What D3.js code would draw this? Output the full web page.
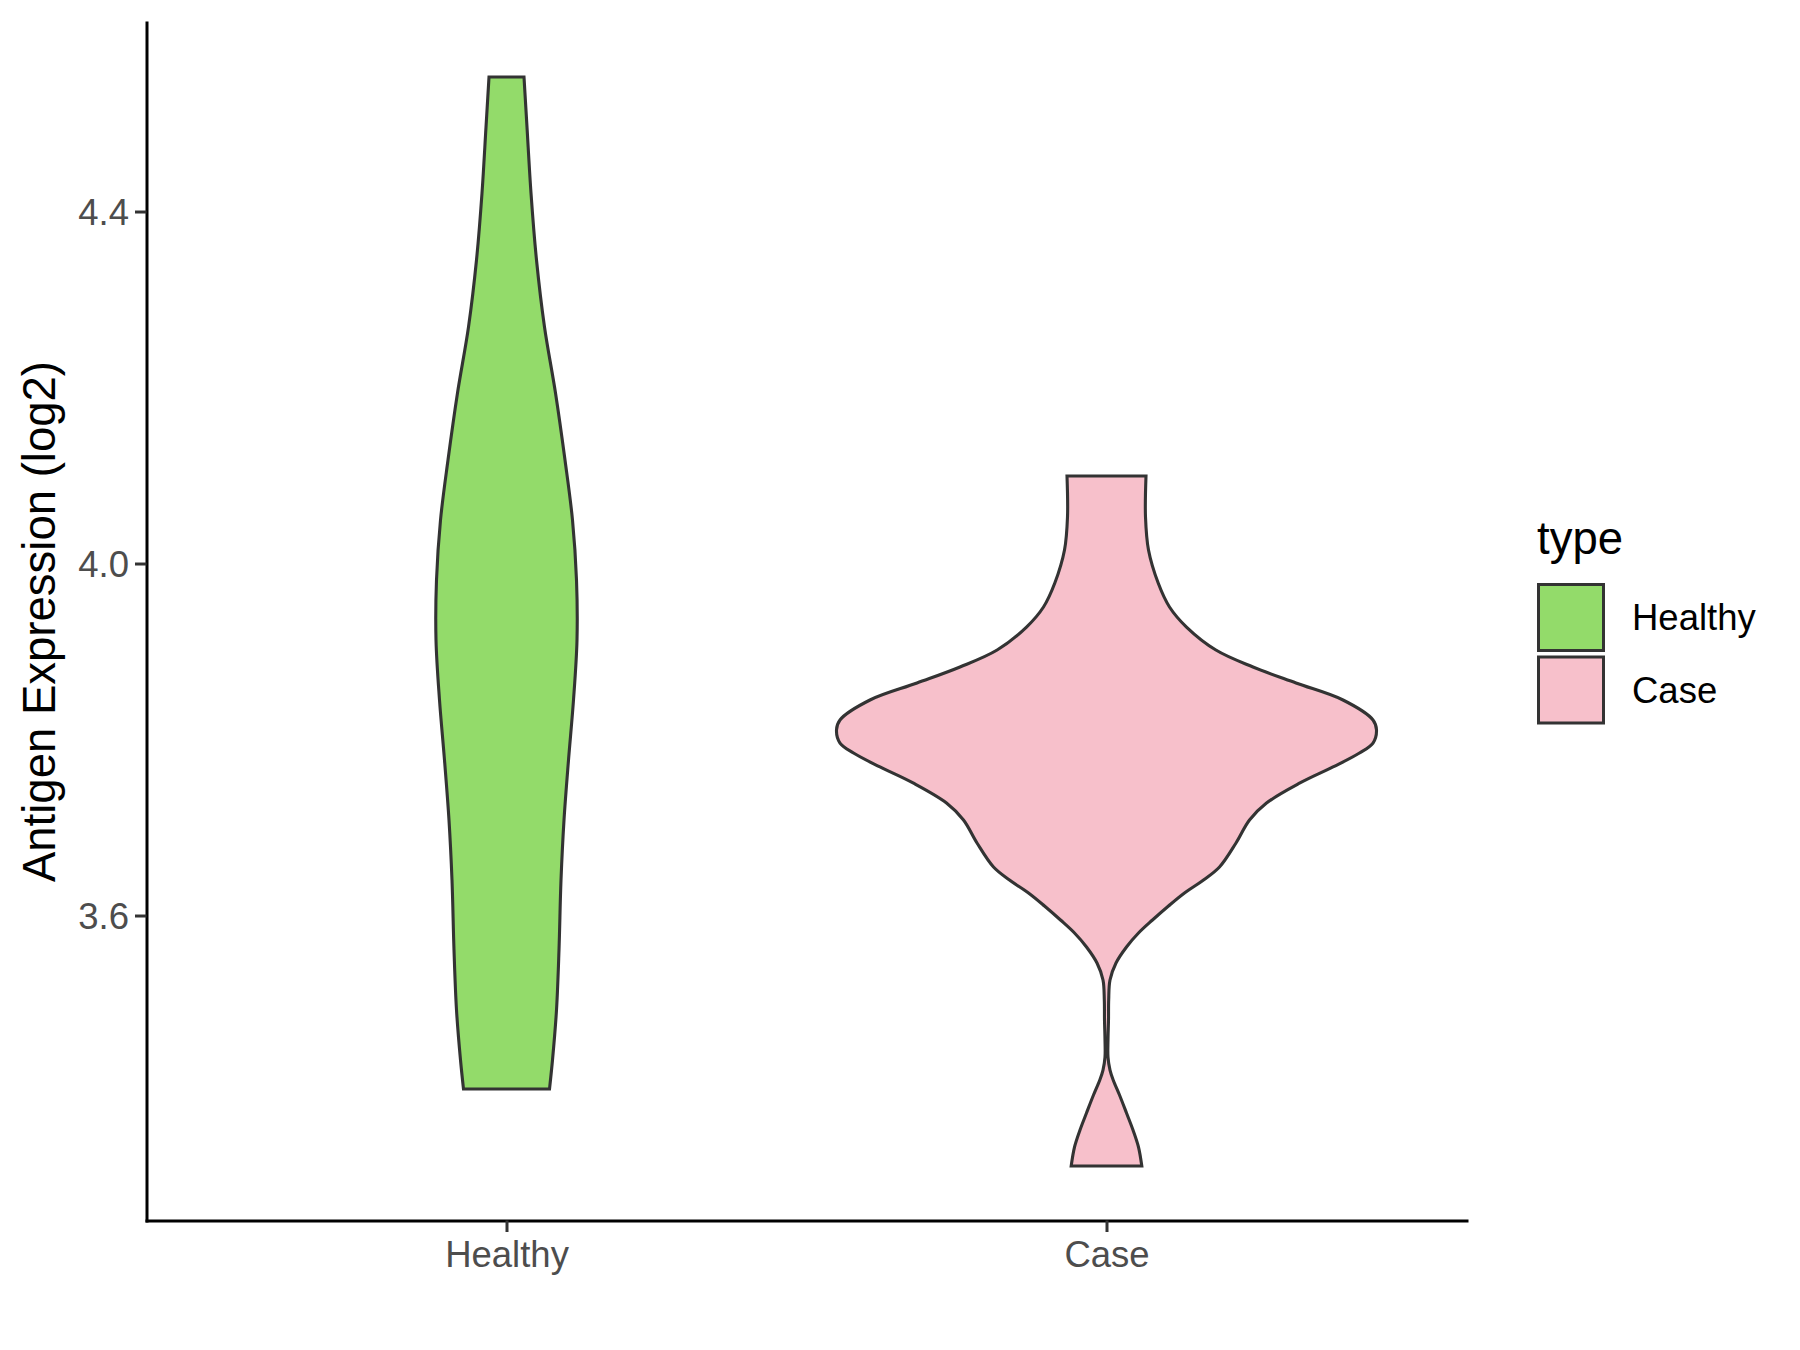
<!DOCTYPE html>
<html>
<head>
<meta charset="utf-8">
<script src="https://cdn.jsdelivr.net/npm/d3@7"></script>
<style>
  html, body { margin: 0; padding: 0; background: #ffffff; }
  svg { display: block; }
  text { font-family: "Liberation Sans", Arial, sans-serif; }
</style>
</head>
<body>
<svg id="chart" width="1800" height="1350"></svg>
<script>
// ---------------- data ----------------
const categories = ["Healthy", "Case"];
const yTicks = [3.6, 4.0, 4.4];
const legendTitle = "type";
const yTitle = "Antigen Expression (log2)";

// Violin density estimates (value on y axis, kernel density)
const healthyValues  = [4.5528, 4.4960, 4.4210, 4.3449, 4.2688, 4.1938, 4.1176, 4.0494, 3.9813, 3.9131,
                        3.8449, 3.7767, 3.7085, 3.6403, 3.5608, 3.4926, 3.4358, 3.4028];
const healthyDensity = [0.280, 0.328, 0.392, 0.480, 0.608, 0.784, 0.936, 1.056, 1.120, 1.128,
                        1.072, 0.992, 0.920, 0.872, 0.840, 0.800, 0.736, 0.688];

const caseValues  = [4.0994, 4.0528, 4.0153, 3.9778, 3.9506, 3.9278, 3.9017, 3.8824, 3.8642, 3.8449,
                     3.8222, 3.8108, 3.7960, 3.7847, 3.7688, 3.7506, 3.7278, 3.7085, 3.6824, 3.6551,
                     3.6403, 3.6256, 3.6108, 3.5949, 3.5801, 3.5642, 3.5460, 3.5267, 3.5040, 3.4813,
                     3.4585, 3.4392, 3.4244, 3.4131, 3.3960, 3.3756, 3.3563, 3.3369, 3.3153];
const caseDensity = [0.632, 0.624, 0.672, 0.827, 1.008, 1.280, 1.750, 2.344, 3.032, 3.784,
                     4.264, 4.320, 4.264, 4.048, 3.624, 3.096, 2.560, 2.288, 2.072, 1.808,
                     1.552, 1.248, 0.992, 0.736, 0.512, 0.320, 0.152, 0.056, 0.035, 0.032,
                     0.024, 0.024, 0.056, 0.107, 0.208, 0.320, 0.424, 0.512, 0.565];

const fillColors = ["#93DB6A", "#F7C0CB"];

// ---------------- layout ----------------
const svg = d3.select("#chart");
const panel = { left: 146.5, right: 1466.5, top: 22.6, bottom: 1220.5 };

const groups = [
  { name: categories[0], values: healthyValues, density: healthyDensity, fill: fillColors[0] },
  { name: categories[1], values: caseValues, density: caseDensity, fill: fillColors[1] }
];

const allVals = healthyValues.concat(caseValues);
const vMin = d3.min(allVals), vMax = d3.max(allVals);
const pad = (vMax - vMin) * 0.05;

const y = d3.scaleLinear().domain([vMin - pad, vMax + pad]).range([panel.bottom, panel.top]);
const x = d3.scalePoint().domain(categories).range([panel.left, panel.right]).padding(0.6);
const maxDens = d3.max(healthyDensity.concat(caseDensity));
const w = d3.scaleLinear().domain([0, maxDens]).range([0, x.step() * 0.45]);

// ---------------- violins ----------------
const area = d3.area()
  .curve(d3.curveCatmullRom.alpha(0.5));

groups.forEach(g => {
  const cx = x(g.name);
  const pts = g.values.map((v, i) => ({ v, d: g.density[i] }));
  area.x0(p => cx - w(p.d)).x1(p => cx + w(p.d)).y(p => y(p.v));
  svg.append("path")
    .attr("d", area(pts))
    .attr("fill", g.fill)
    .attr("stroke", "#333333")
    .attr("stroke-width", 3.1)
    .attr("stroke-linejoin", "miter");
});

// ---------------- axes ----------------
const yAxis = svg.append("g")
  .attr("transform", `translate(${panel.left},0)`)
  .call(d3.axisLeft(y).tickValues(yTicks).tickFormat(d3.format(".1f")).tickSizeOuter(0).tickSizeInner(11.5).tickPadding(6));

const xAxis = svg.append("g")
  .attr("transform", `translate(0,${panel.bottom})`)
  .call(d3.axisBottom(x).tickSizeOuter(0).tickSizeInner(11.5).tickPadding(9));

[yAxis, xAxis].forEach(a => {
  a.select(".domain").attr("stroke", "#000000").attr("stroke-width", 3).attr("stroke-linecap", "square");
  a.selectAll(".tick line").attr("stroke", "#333333").attr("stroke-width", 3);
  a.selectAll(".tick text")
    .attr("fill", "#4D4D4D")
    .style("font-family", "'Liberation Sans', Arial, sans-serif")
    .style("font-size", "36.5px");
});
yAxis.selectAll(".tick text").attr("dy", "0.35em");
xAxis.selectAll(".tick text").attr("dy", "0.71em");

// y title
svg.append("text")
  .attr("transform", `translate(55,${(panel.top + panel.bottom) / 2}) rotate(-90)`)
  .attr("text-anchor", "middle")
  .attr("fill", "#000000")
  .style("font-size", "45.5px")
  .text(yTitle);

// ---------------- legend ----------------
const legend = svg.append("g");
legend.append("text")
  .attr("x", 1537).attr("y", 554)
  .attr("fill", "#000000")
  .style("font-size", "45.5px")
  .text(legendTitle);

groups.forEach((g, i) => {
  const ky = 584.5 + i * 72.5;
  legend.append("rect")
    .attr("x", 1538.5).attr("y", ky)
    .attr("width", 65).attr("height", 66)
    .attr("fill", g.fill)
    .attr("stroke", "#333333")
    .attr("stroke-width", 3);
  legend.append("text")
    .attr("x", 1632).attr("y", ky + 33)
    .attr("dy", "0.35em")
    .attr("fill", "#000000")
    .style("font-size", "36.5px")
    .text(g.name);
});
</script>
</body>
</html>
